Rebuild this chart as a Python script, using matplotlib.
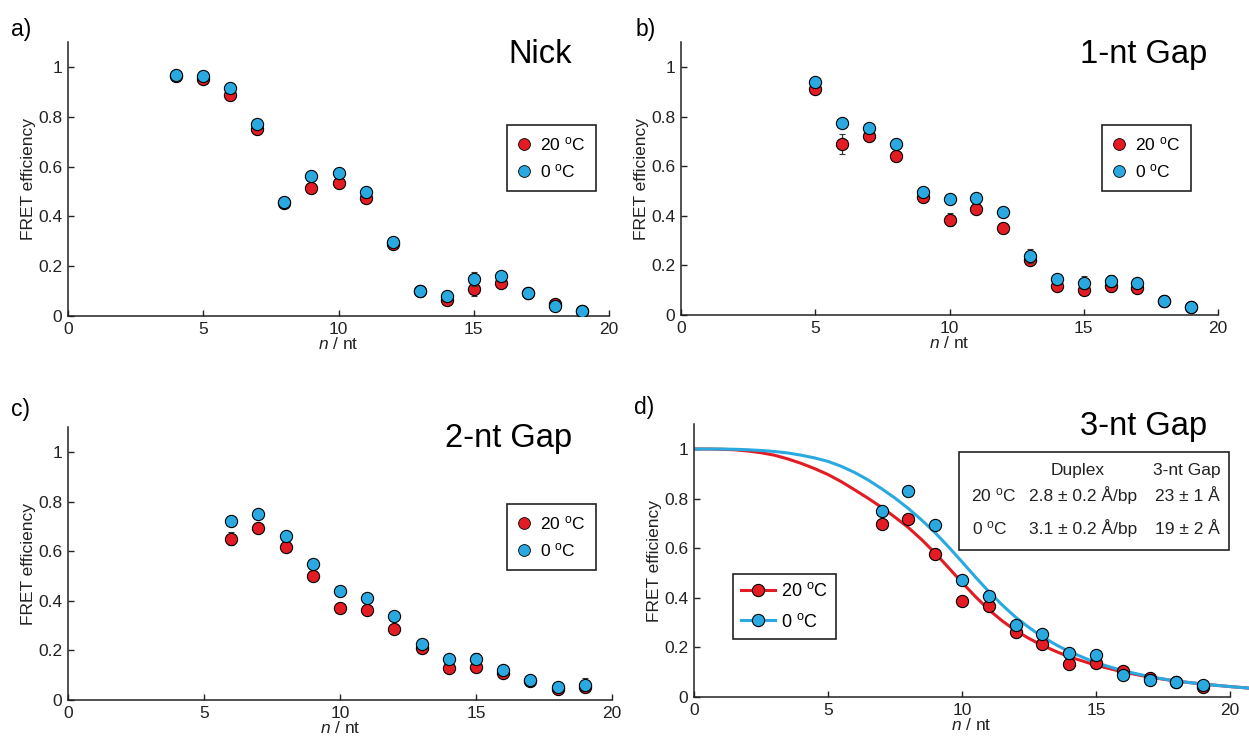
import matplotlib
matplotlib.use('Agg')
import matplotlib.pyplot as plt
from matplotlib.patches import Rectangle
from matplotlib.lines import Line2D

plt.rcParams['font.family'] = ['Liberation Sans', 'DejaVu Sans']
plt.rcParams['mathtext.fontset'] = 'custom'
plt.rcParams['mathtext.rm'] = 'Liberation Sans'
plt.rcParams['mathtext.it'] = 'Liberation Sans:italic'
plt.rcParams['mathtext.bf'] = 'Liberation Sans:bold'

W, H = 1249, 740
RED = '#E31B23'
BLUE = '#29A9E0'

# ---------------- data ----------------
n_nick = [4, 5, 6, 7, 8, 9, 10, 11, 12, 13, 14, 15, 16, 17, 18, 19]
nick_20 = [0.965, 0.952, 0.886, 0.753, 0.453, 0.516, 0.534, 0.475, 0.288, 0.100, 0.066, 0.110, 0.134, 0.091, 0.048, 0.020]
nick_20_err = [0.01, 0.01, 0.01, 0.01, 0.01, 0.01, 0.01, 0.01, 0.01, 0.01, 0.01, 0.03, 0.01, 0.01, 0.01, 0.01]
nick_0 = [0.969, 0.965, 0.916, 0.773, 0.457, 0.563, 0.575, 0.499, 0.299, 0.102, 0.080, 0.150, 0.161, 0.092, 0.042, 0.020]
nick_0_err = [0.01, 0.01, 0.01, 0.01, 0.01, 0.01, 0.01, 0.01, 0.01, 0.01, 0.01, 0.028, 0.012, 0.01, 0.01, 0.01]

n_gap1 = [5, 6, 7, 8, 9, 10, 11, 12, 13, 14, 15, 16, 17, 18, 19]
gap1_20 = [0.913, 0.689, 0.721, 0.641, 0.476, 0.385, 0.429, 0.350, 0.221, 0.115, 0.100, 0.118, 0.107, 0.055, 0.034]
gap1_20_err = [0.01, 0.04, 0.01, 0.01, 0.01, 0.025, 0.01, 0.01, 0.01, 0.01, 0.015, 0.01, 0.01, 0.02, 0.01]
gap1_0 = [0.940, 0.775, 0.753, 0.689, 0.495, 0.466, 0.472, 0.416, 0.237, 0.146, 0.131, 0.138, 0.129, 0.055, 0.031]
gap1_0_err = [0.01, 0.01, 0.01, 0.01, 0.01, 0.01, 0.01, 0.01, 0.028, 0.01, 0.025, 0.025, 0.015, 0.02, 0.01]

n_gap2 = [6, 7, 8, 9, 10, 11, 12, 13, 14, 15, 16, 17, 18, 19]
gap2_20 = [0.651, 0.693, 0.615, 0.501, 0.371, 0.361, 0.287, 0.209, 0.131, 0.134, 0.110, 0.075, 0.046, 0.051]
gap2_20_err = [0.025, 0.01, 0.01, 0.01, 0.01, 0.01, 0.01, 0.01, 0.01, 0.01, 0.01, 0.01, 0.01, 0.01]
gap2_0 = [0.720, 0.752, 0.661, 0.550, 0.438, 0.412, 0.339, 0.227, 0.166, 0.166, 0.122, 0.079, 0.054, 0.062]
gap2_0_err = [0.01, 0.01, 0.01, 0.01, 0.01, 0.01, 0.01, 0.01, 0.01, 0.022, 0.02, 0.01, 0.012, 0.025]

n_gap3 = [7, 8, 9, 10, 11, 12, 13, 14, 15, 16, 17, 18, 19]
gap3_20 = [0.698, 0.716, 0.575, 0.386, 0.366, 0.261, 0.212, 0.134, 0.137, 0.105, 0.078, 0.062, 0.040]
gap3_20_err = [0.01, 0.01, 0.01, 0.01, 0.01, 0.01, 0.01, 0.015, 0.01, 0.012, 0.01, 0.01, 0.01]
gap3_0 = [0.751, 0.832, 0.692, 0.473, 0.409, 0.292, 0.255, 0.176, 0.169, 0.087, 0.067, 0.062, 0.048]
gap3_0_err = [0.01, 0.01, 0.01, 0.01, 0.01, 0.01, 0.01, 0.015, 0.01, 0.01, 0.01, 0.01, 0.01]

# fitted curves
fit_n = [0, 0.5, 1, 1.5, 2, 2.5, 3, 3.5, 4, 4.5, 5, 5.5, 6, 6.5, 7, 7.5, 8, 8.5, 9, 9.5, 10,
         10.5, 11, 11.5, 12, 12.5, 13, 13.5, 14, 15, 16, 17, 18, 19, 20, 20.8]
fit_20 = [1.0, 1.0, 0.999, 0.997, 0.992, 0.985, 0.975, 0.960, 0.942, 0.921, 0.897, 0.868, 0.835,
          0.801, 0.765, 0.725, 0.683, 0.634, 0.580, 0.521, 0.462, 0.405, 0.352, 0.307, 0.268,
          0.236, 0.208, 0.184, 0.162, 0.128, 0.101, 0.080, 0.064, 0.052, 0.042, 0.035]
fit_0 = [1.0, 1.0, 1.0, 0.999, 0.997, 0.994, 0.990, 0.984, 0.975, 0.964, 0.950, 0.930, 0.905,
         0.875, 0.840, 0.802, 0.760, 0.713, 0.662, 0.605, 0.545, 0.484, 0.425, 0.371, 0.322,
         0.280, 0.243, 0.211, 0.183, 0.138, 0.106, 0.082, 0.064, 0.052, 0.042, 0.035]

yticks = [0, 0.2, 0.4, 0.6, 0.8, 1.0]
ytick_labels = ['0', '0.2', '0.4', '0.6', '0.8', '1']
xticks = [0, 5, 10, 15, 20]
xtick_labels = ['0', '5', '10', '15', '20']

titles = ['Nick', '1-nt Gap', '2-nt Gap', '3-nt Gap']
panel_labels = ['a)', 'b)', 'c)', 'd)']
lab20 = '20 $^{\\mathrm{o}}$C'
lab0 = '0 $^{\\mathrm{o}}$C'

MS = 8.8

# ---------------- figure ----------------
fig = plt.figure(figsize=(W / 100, H / 100), dpi=100)


def fx(px):
    return px / W


def fy(py):
    return 1 - py / H


def make_ax(x0, x20, y0, y1, xmax=20.0):
    sx = (x20 - x0) / 20.0
    sy = (y0 - y1)
    rect = [x0 / W, (H - y0) / H, xmax * sx / W, 1.1 * sy / H]
    ax = fig.add_axes(rect)
    ax.set_xlim(0, xmax)
    ax.set_ylim(0, 1.1)
    for s in ['top', 'right']:
        ax.spines[s].set_visible(False)
    for s in ['left', 'bottom']:
        ax.spines[s].set_linewidth(1.1)
        ax.spines[s].set_color('#222222')
    ax.spines['bottom'].set_bounds(0, 20)
    ax.set_xticks(xticks)
    ax.set_xticklabels(xtick_labels)
    ax.set_yticks(yticks)
    ax.set_yticklabels(ytick_labels)
    ax.tick_params(direction='in', length=4, width=1, labelsize=12.5, colors='#222222',
                   labelcolor='#222222')
    ax.tick_params(axis='x', pad=4.5)
    ax.tick_params(axis='y', pad=4)
    ax.set_xlabel('$n$ / nt', fontsize=12.5, labelpad=-1, color='#222222')
    ax.set_ylabel('FRET efficiency', fontsize=12.5, labelpad=2, color='#222222')
    ax.patch.set_alpha(0)
    return ax


def scatter_pair(ax, n, y20, e20, y0, e0):
    ax.errorbar(n, y20, yerr=e20, fmt='o', ms=MS, mfc=RED, mec='k', mew=0.8,
                ecolor='#333333', elinewidth=0.9, capsize=2.5, capthick=0.9, zorder=3)
    ax.errorbar(n, y0, yerr=e0, fmt='o', ms=MS, mfc=BLUE, mec='k', mew=0.8,
                ecolor='#333333', elinewidth=0.9, capsize=2.5, capthick=0.9, zorder=4)


def marker_legend(ax, xpx, ypx):
    handles = [Line2D([], [], ls='none', marker='o', ms=8.5, mfc=RED, mec='k', mew=0.6),
               Line2D([], [], ls='none', marker='o', ms=8.5, mfc=BLUE, mec='k', mew=0.6)]
    leg = ax.legend(handles, [lab20, lab0], loc='upper left',
                    bbox_to_anchor=(fx(xpx), fy(ypx)), bbox_transform=fig.transFigure,
                    borderaxespad=0, fontsize=12.5, frameon=True, fancybox=False,
                    handlelength=0.8, handletextpad=0.5, labelspacing=0.5,
                    borderpad=0.6, framealpha=1)
    leg.get_frame().set_edgecolor('#222222')
    leg.get_frame().set_linewidth(1.2)
    return leg


# panel a
axa = make_ax(68, 609, 316, 67)
scatter_pair(axa, n_nick, nick_20, nick_20_err, nick_0, nick_0_err)
marker_legend(axa, 507, 125)

# panel b
axb = make_ax(681, 1218, 315, 67)
scatter_pair(axb, n_gap1, gap1_20, gap1_20_err, gap1_0, gap1_0_err)
marker_legend(axb, 1102, 125)

# panel c
axc = make_ax(68, 612, 700, 452)
scatter_pair(axc, n_gap2, gap2_20, gap2_20_err, gap2_0, gap2_0_err)
marker_legend(axc, 507, 504)

# panel d
axd = make_ax(694, 1230, 697, 449, xmax=20.7)
axd.plot(fit_n, fit_20, color=RED, lw=2.2, zorder=2, solid_capstyle='butt', solid_joinstyle='round')
axd.plot(fit_n, fit_0, color=BLUE, lw=2.2, zorder=2, solid_capstyle='butt', solid_joinstyle='round')
scatter_pair(axd, n_gap3, gap3_20, gap3_20_err, gap3_0, gap3_0_err)
hd = [Line2D([], [], color=RED, lw=2.2, marker='o', ms=MS, mfc=RED, mec='k', mew=0.8),
      Line2D([], [], color=BLUE, lw=2.2, marker='o', ms=MS, mfc=BLUE, mec='k', mew=0.8)]
legd = axd.legend(hd, [lab20, lab0], loc='upper left',
                  bbox_to_anchor=(fx(733), fy(574)), bbox_transform=fig.transFigure,
                  borderaxespad=0, fontsize=13, frameon=True, fancybox=False,
                  handlelength=1.9, handletextpad=0.3, labelspacing=0.7,
                  borderpad=0.45, framealpha=1)
legd.get_frame().set_edgecolor('#222222')
legd.get_frame().set_linewidth(1.2)

# parameter table in d
fig.add_artist(Rectangle((fx(959), fy(550)), fx(1229) - fx(959), fy(452) - fy(550),
                         transform=fig.transFigure, fill=True, facecolor='white',
                         edgecolor='#222222', lw=1.2, zorder=5))
tkw = dict(fontsize=12.5, color='#222222', zorder=6)
fig.text(fx(1078), fy(475), 'Duplex', ha='center', va='baseline', **tkw)
fig.text(fx(1187), fy(475), '3-nt Gap', ha='center', va='baseline', **tkw)
fig.text(fx(971), fy(501), lab20, ha='left', va='baseline', **tkw)
fig.text(fx(1083), fy(501), '2.8 ± 0.2 Å/bp', ha='center', va='baseline', **tkw)
fig.text(fx(1187), fy(501), '23 ± 1 Å', ha='center', va='baseline', **tkw)
fig.text(fx(972), fy(534), lab0, ha='left', va='baseline', **tkw)
fig.text(fx(1083), fy(534), '3.1 ± 0.2 Å/bp', ha='center', va='baseline', **tkw)
fig.text(fx(1187), fy(534), '19 ± 2 Å', ha='center', va='baseline', **tkw)

# titles
title_pos = [(572, 63), (1207, 63), (572, 447), (1207, 435)]
for t, (x, y) in zip(titles, title_pos):
    fig.text(fx(x), fy(y), t, ha='right', va='baseline', fontsize=23.5, color='black')

# panel labels
label_pos = [(11, 36), (636, 36), (11, 416), (634, 414)]
for t, (x, y) in zip(panel_labels, label_pos):
    fig.text(fx(x), fy(y), t, ha='left', va='baseline', fontsize=16.5, color='black')

fig.savefig('out.png', dpi=100)
